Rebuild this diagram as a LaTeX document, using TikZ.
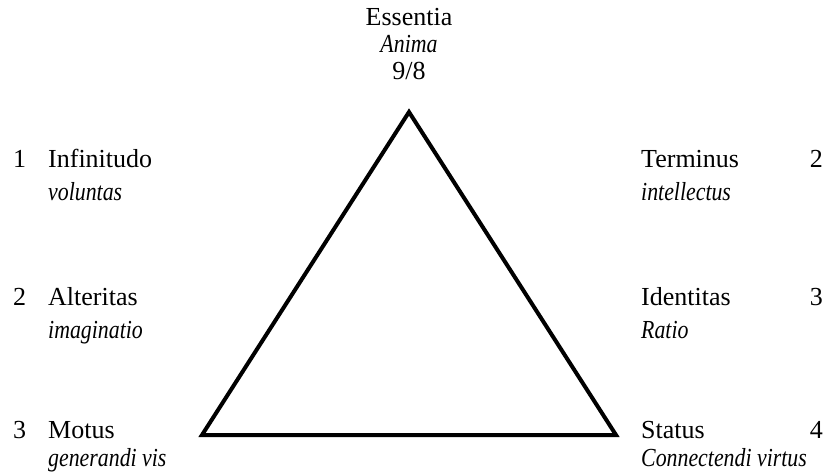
\documentclass[tikz,border=0pt]{standalone}
\usepackage{fontspec}
\setmainfont{Liberation Serif}[ItalicFeatures={FakeStretch=0.84}]
\begin{document}
\begin{tikzpicture}[x=1pt,y=-1pt,
  lbl/.style={inner sep=0pt,anchor=base west,font=\fontsize{26}{30}\selectfont},
  sub/.style={inner sep=0pt,anchor=base west,font=\fontsize{26}{30}\selectfont\itshape},
  numr/.style={inner sep=0pt,anchor=base east,font=\fontsize{26}{30}\selectfont},
  topl/.style={inner sep=0pt,anchor=base,font=\fontsize{26}{30}\selectfont},
  tri/.style={line width=4pt,line join=miter}]
\useasboundingbox (0,0) rectangle (830,475);
% top label
\node[topl] (ess) at (409,25) {Essentia};
\node[topl,font=\fontsize{26}{30}\selectfont\itshape] (anima) at (409,52) {Anima};
\node[topl] (ratio98) at (409,79) {9/8};
% triangle
\coordinate (A) at (409,112);
\coordinate (B) at (202,435);
\coordinate (C) at (616,435);
\draw[tri] (A) -- (B) -- (C) -- cycle;
% left column
\node[lbl] (n1) at (13,167) {1};
\node[lbl] (inf) at (48,167) {Infinitudo};
\node[sub] (vol) at (48,200) {voluntas};
\node[lbl] (n2l) at (13,305) {2};
\node[lbl] (alt) at (48,305) {Alteritas};
\node[sub] (imag) at (48,338) {imaginatio};
\node[lbl] (n3l) at (13,438) {3};
\node[lbl] (mot) at (48,438) {Motus};
\node[sub] (gen) at (48,466) {generandi vis};
% right column
\node[lbl] (term) at (641,167) {Terminus};
\node[numr] (n2r) at (823,167) {2};
\node[sub] (intel) at (641,200) {intellectus};
\node[lbl] (ident) at (641,305) {Identitas};
\node[numr] (n3r) at (823,305) {3};
\node[sub] (rat) at (641,338) {Ratio};
\node[lbl] (stat) at (641,438) {Status};
\node[numr] (n4) at (823,438) {4};
\node[sub] (conn) at (641,466) {Connectendi virtus};
\end{tikzpicture}
\end{document}
